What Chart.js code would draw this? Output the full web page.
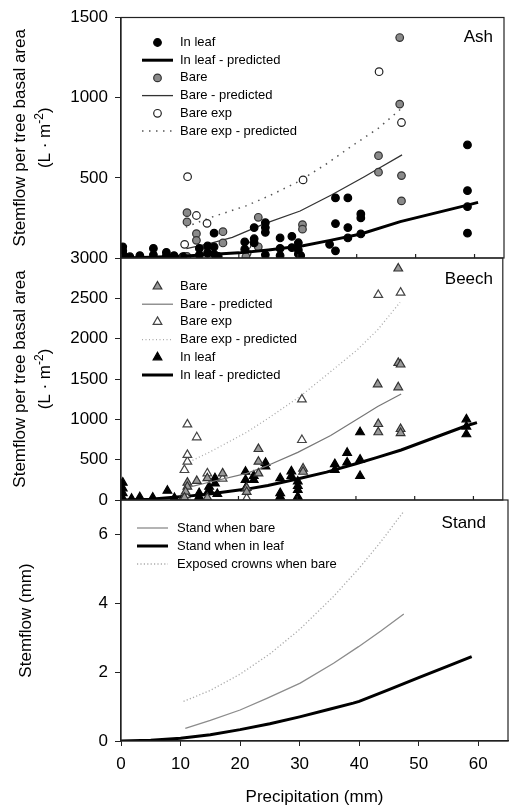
<!DOCTYPE html>
<html>
<head>
<meta charset="utf-8">
<script src="https://cdn.jsdelivr.net/npm/chart.js@4.4.1/dist/chart.umd.min.js"></script>
<style>
  body { margin: 0; background: #fff; }
  #wrap { position: relative; width: 509px; height: 808px; }
  #wrap canvas { position: absolute; left: 0; top: 0; }
</style>
</head>
<body>
<div id="wrap">
  <canvas id="ash" width="509" height="808"></canvas>
  <canvas id="beech" width="509" height="808"></canvas>
  <canvas id="stand" width="509" height="808"></canvas>
</div>
<script>
// precipitation ticks shared by the three panels
const xTicks = [0, 10, 20, 30, 40, 50, 60];

// Ash: [precipitation mm, stemflow L/m2]
const ashLeaf = [[0.3,70],[0.3,45],[0.3,25],[0.3,10],[1.5,8],[3.2,15],[5.5,60],[5.5,20],[7.7,35],[7.7,12],[9,15],[10.5,8],
  [13.3,60],[13.3,20],[14.7,75],[14.7,30],[15.8,155],[15.8,70],[15.8,25],[16.5,10],[21,100],[21,55],[22.6,190],[22.6,120],
  [22.6,95],[24.5,220],[24.5,190],[24.5,160],[24.5,20],[27,125],[27,60],[27,15],[29,135],[29,65],[30.1,95],[30.1,50],
  [30.1,25],[30.5,15],[35.4,85],[36.4,375],[36.4,215],[36.4,45],[38.5,375],[38.5,190],[38.5,125],[40.7,275],[40.7,250],
  [40.7,150],[58.8,705],[58.8,420],[58.8,320],[58.8,155]];
const ashLeafFit = [[0,0],[5,4],[11,12],[15,22],[20,32],[25,50],[30.9,76],[35.5,110],[40.7,150],[47.4,227],[58.8,330],[60.6,347]];
const ashBare = [[11.2,283],[11.2,225],[11.2,10],[12.8,152],[12.8,110],[14.7,65],[14.7,30],[17.3,164],[17.3,94],[21.2,8],
  [23.3,254],[23.3,70],[30.8,208],[30.8,180],[43.7,638],[43.7,535],[47.3,1375],[47.3,960],[47.6,514],[47.6,356]];
const ashBareFit = [[11.1,58],[15,90],[18.9,129],[24.5,216],[30.4,293],[35.7,393],[41.3,507],[43.7,558],[47.7,643]];
const ashExp = [[10.8,85],[10.8,10],[11.3,507],[12.8,265],[14.6,216],[21.4,80],[21.4,30],[30.9,487],[43.8,1162],[47.6,845]];
const ashExpFit = [[11,193],[15,250],[21.2,325],[25,385],[30.1,476],[35,590],[39,694],[43.7,810],[47.5,930]];

// Beech
const beechBare = [[47.2,2870],[47.2,1700],[47.6,1680],[43.7,1434],[47.2,1397],[43.8,942],[43.8,840],[47.6,880],[47.6,830],
  [23.4,632],[23.4,475],[31,390],[31,350],[11.3,215],[11.3,165],[11,103],[12.9,236],[14.7,270],[14.7,30],[17.3,330],
  [21.4,150],[21.4,100],[23.4,330],[10.8,30]];
const beechBareFit = [[11.1,150],[15,220],[21.4,331],[24.5,413],[30.1,590],[35.7,800],[41.3,1050],[43.7,1160],[47.7,1314]];
const beechExp = [[10.8,372],[11.3,475],[11.3,560],[11.3,938],[12.9,777],[14.7,330],[17.3,265],[30.8,1248],[30.8,744],
  [43.8,2542],[47.6,2571],[21.4,20],[11,60]];
const beechExpFit = [[11.1,455],[15,590],[21.4,840],[25,1010],[30.6,1290],[35,1550],[40.2,1860],[43.7,2110],[47.5,2450]];
const beechLeaf = [[0.3,215],[0.3,145],[0.3,85],[0.3,20],[1.8,15],[3.2,35],[5.4,30],[7.9,115],[9.1,25],[13.3,85],[13.3,40],
  [15,165],[15,125],[16,270],[16,205],[16.4,75],[21.2,350],[21.2,250],[21.2,145],[22.6,300],[22.6,250],[24.6,460],
  [24.6,415],[27.1,270],[27.1,85],[27.1,40],[29,355],[29,300],[30.1,230],[30.1,175],[30.1,125],[30.1,40],[36.4,445],
  [36.4,372],[38.5,585],[38.5,465],[40.7,840],[40.7,500],[40.7,298],[58.8,1000],[58.8,910],[58.8,815]];
const beechLeafFit = [[0,0],[5,10],[11,45],[15,75],[21.4,135],[25,180],[30,260],[35,345],[40,450],[43.5,525],[47.7,620],[58.8,920],[60.6,960]];

// Stand, stemflow in mm
const standBare = [[10.8,0.37],[15,0.6],[20,0.9],[24.5,1.24],[30.1,1.68],[35.7,2.26],[39.9,2.74],[43.7,3.2],[47.5,3.69]];
const standLeaf = [[0,0],[5,0.02],[10,0.08],[15,0.18],[20,0.33],[25,0.5],[30,0.7],[35,0.92],[39,1.1],[40,1.15],[45,1.49],[50,1.84],[55,2.18],[58.9,2.45]];
const standExp = [[10.5,1.15],[15,1.47],[20,1.94],[25,2.53],[30,3.24],[35.7,4.2],[40,5.02],[43.7,5.8],[47.4,6.65]];

const FONT = '"Liberation Sans", Arial, Helvetica, sans-serif';
Chart.defaults.font.family = FONT;
Chart.defaults.color = '#000';

function pts(arr) {
  return arr.map(p => ({ x: p[0], y: p[1] }));
}

function dots(label, data, style, fill, stroke, r) {
  return { label, data: pts(data), showLine: false, pointStyle: style, pointRadius: r, pointHoverRadius: r,
    backgroundColor: fill, borderColor: stroke, borderWidth: 1.2 };
}

function curve(label, data, color, width, dash) {
  return { label, data: pts(data), showLine: true, pointRadius: 0, pointHoverRadius: 0, borderColor: color,
    backgroundColor: color, borderWidth: width, borderDash: dash || [], tension: 0, fill: false };
}

// rotated y title, parts may be raised as superscript
function yTitle(ctx, lines, cy) {
  lines.forEach(line => {
    ctx.save();
    ctx.translate(line.x, cy);
    ctx.rotate(-Math.PI / 2);
    ctx.textBaseline = 'alphabetic';
    ctx.textAlign = 'left';
    let total = 0;
    line.parts.forEach(p => {
      ctx.font = (p[1] ? 12 : 17) + 'px ' + FONT;
      total += ctx.measureText(p[0]).width;
    });
    let pos = -total / 2;
    line.parts.forEach(p => {
      ctx.font = (p[1] ? 12 : 17) + 'px ' + FONT;
      ctx.fillText(p[0], pos, p[1] ? -7 : 0);
      pos += ctx.measureText(p[0]).width;
    });
    ctx.restore();
  });
}

const panelDecor = {
  id: 'panelDecor',
  afterDatasetsDraw(chart, args, o) {
    const { ctx, chartArea: a, scales } = chart;
    ctx.save();
    ctx.strokeStyle = '#222';
    ctx.lineWidth = 1.2;
    ctx.strokeRect(a.left, a.top, a.right - a.left, a.bottom - a.top);
    if (o.innerTicks) {
      ctx.beginPath();
      xTicks.forEach(v => {
        const px = scales.x.getPixelForValue(v);
        ctx.moveTo(px, a.bottom);
        ctx.lineTo(px, a.bottom - 4);
      });
      ctx.stroke();
    }
    ctx.fillStyle = '#000';
    ctx.font = '17px ' + FONT;
    ctx.textAlign = 'right';
    ctx.textBaseline = 'alphabetic';
    ctx.fillText(o.name, o.nameX, o.nameY);

    // legend inside the plot
    chart.data.datasets.forEach((ds, i) => {
      const y = o.legY + i * o.legStep;
      const x0 = o.legX, x1 = o.legX + o.legLen;
      ctx.save();
      if (ds.showLine) {
        ctx.strokeStyle = ds.borderColor;
        ctx.lineWidth = ds.borderWidth;
        ctx.setLineDash(ds.borderDash);
        ctx.beginPath();
        ctx.moveTo(x0, y);
        ctx.lineTo(x1, y);
        ctx.stroke();
      } else {
        ctx.fillStyle = ds.backgroundColor;
        ctx.strokeStyle = ds.borderColor;
        ctx.lineWidth = ds.borderWidth;
        Chart.helpers.drawPoint(ctx, { pointStyle: ds.pointStyle, radius: ds.pointRadius, borderWidth: ds.borderWidth, rotation: 0 }, (x0 + x1) / 2, y);
      }
      ctx.restore();
      ctx.fillStyle = '#000';
      ctx.font = '13px ' + FONT;
      ctx.textAlign = 'left';
      ctx.textBaseline = 'middle';
      ctx.fillText(ds.label, o.textX, y);
    });

    yTitle(ctx, o.title, (a.top + a.bottom) / 2);
    ctx.restore();
  }
};

const basalTitle = [
  { x: 25, parts: [['Stemflow per tree basal area', 0]] },
  { x: 50, parts: [['(L · m', 0], ['-2', 1], [')', 0]] }
];

function makePanel(id, datasets, yMax, yStep, padTop, padBottom, decor, withX, hideZero) {
  const xScale = withX ? {
    type: 'linear', min: 0, max: 65,
    ticks: { stepSize: 10, includeBounds: false, font: { size: 17 }, padding: 8, maxRotation: 0, color: '#000' },
    grid: { drawOnChartArea: false, tickLength: 5, color: '#222' },
    border: { color: '#222', width: 1.2 },
    title: { display: true, text: 'Precipitation (mm)', font: { size: 17 }, padding: 0, color: '#000' },
    afterFit: s => { s.height = 67; }
  } : { type: 'linear', min: 0, max: 65, display: false };

  return new Chart(document.getElementById(id), {
    type: 'scatter',
    data: { datasets },
    options: {
      responsive: false,
      animation: false,
      devicePixelRatio: 1,
      layout: { padding: { top: padTop, bottom: padBottom, left: 0, right: 1 } },
      scales: {
        x: xScale,
        y: {
          type: 'linear', min: 0, max: yMax,
          ticks: { stepSize: yStep, includeBounds: false, font: { size: 17 }, padding: 7, color: '#000',
            callback: v => (hideZero && v === 0 ? '' : v) },
          grid: { drawOnChartArea: false, tickLength: 6, color: '#222' },
          border: { color: '#222', width: 1.2 },
          afterFit: s => { s.width = 121; }
        }
      },
      plugins: { legend: { display: false }, tooltip: { enabled: false }, panelDecor: decor }
    },
    plugins: [panelDecor]
  });
}

makePanel('ash', [
  dots('In leaf', ashLeaf, 'circle', '#000', '#000', 3.8),
  curve('In leaf - predicted', ashLeafFit, '#000', 3),
  dots('Bare', ashBare, 'circle', '#8a8a8a', '#333', 3.8),
  curve('Bare - predicted', ashBareFit, '#333', 1.3),
  dots('Bare exp', ashExp, 'circle', '#fff', '#222', 3.8),
  curve('Bare exp - predicted', ashExpFit, '#555', 1.5, [1.5, 5.5])
], 1500, 500, 17.5, 550, {
  name: 'Ash', nameX: 493, nameY: 42, legX: 142, legY: 42.5, legStep: 17.7, legLen: 31, textX: 180,
  innerTicks: true, title: basalTitle
}, false, true);

makePanel('beech', [
  dots('Bare', beechBare, 'triangle', '#999', '#333', 5),
  curve('Bare - predicted', beechBareFit, '#777', 1.2),
  dots('Bare exp', beechExp, 'triangle', '#fff', '#444', 5),
  curve('Bare exp - predicted', beechExpFit, '#aaa', 1.3, [1, 2.5]),
  dots('In leaf', beechLeaf, 'triangle', '#000', '#000', 5),
  curve('In leaf - predicted', beechLeafFit, '#000', 3)
], 3000, 500, 258, 308, {
  name: 'Beech', nameX: 493, nameY: 284, legX: 142, legY: 286.5, legStep: 17.7, legLen: 31, textX: 180,
  innerTicks: true, title: basalTitle
}, false, false);

makePanel('stand', [
  curve('Stand when bare', standBare, '#8c8c8c', 1.3),
  curve('Stand when in leaf', standLeaf, '#000', 3),
  curve('Exposed crowns when bare', standExp, '#aaa', 1.3, [1.2, 2.2])
], 7, 2, 500, 0, {
  name: 'Stand', nameX: 486, nameY: 528, legX: 137, legY: 528, legStep: 18, legLen: 31, textX: 177,
  innerTicks: false, title: [{ x: 31, parts: [['Stemflow (mm)', 0]] }]
}, true, false);
</script>
</body>
</html>
